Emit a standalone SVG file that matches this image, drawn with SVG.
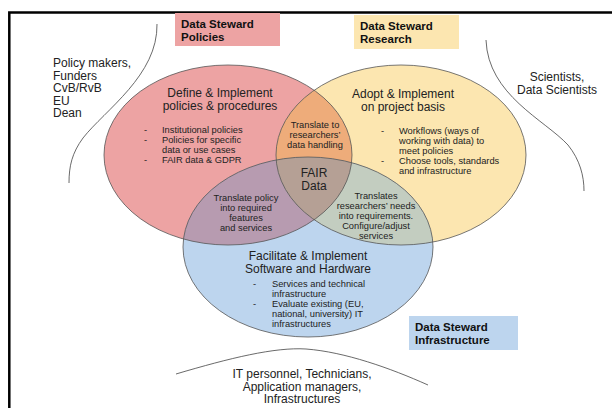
<svg xmlns="http://www.w3.org/2000/svg" width="612" height="408" viewBox="0 0 612 408">
<style>
text{font-family:"Liberation Sans",Arial,sans-serif;fill:#222}
.t{font-size:12px}
.s{font-size:9.3px}
.c{text-anchor:middle}
.b{font-size:11.5px;font-weight:bold;fill:#111}
.edge{fill:none;stroke:#555;stroke-width:0.8}
.curve{fill:none;stroke:#444;stroke-width:0.8}
</style>
<defs>
<clipPath id="cr"><ellipse cx="228" cy="155" rx="124" ry="90"/></clipPath>
<clipPath id="cy"><ellipse cx="401" cy="155" rx="125" ry="90"/></clipPath>
</defs>
<rect width="612" height="408" fill="#fff"/>
<path d="M9.3,408 V12.5 H612" fill="none" stroke="#000" stroke-width="2.5"/>

<g id="labels">
<g id="ds-policies"><rect x="175" y="13" width="105" height="33" fill="#eda3a3"/>
<text class="b" x="181" y="28">Data Steward</text><text class="b" x="181" y="40.5">Policies</text></g>
<g id="ds-research"><rect x="354" y="15" width="105" height="34" fill="#fce6b0"/>
<text class="b" x="360" y="30">Data Steward</text><text class="b" x="360" y="42.5">Research</text></g>
<g id="ds-infra"><rect x="409" y="316" width="109" height="34" fill="#bdd5ee"/>
<text class="b" x="415" y="331">Data Steward</text><text class="b" x="415" y="343.5">Infrastructure</text></g>
</g>

<g id="connectors">
<path class="curve" d="M157,24 C158,75 105,110 83,138 C72,153 69,166 69,183"/>
<path class="curve" d="M486,40 C488,95 545,120 568,145 C580,160 584,176 584,191"/>
<path class="curve" d="M176,374 C230,358 275,347 306,349 C345,352 390,368 428,385"/>
</g>

<g id="venn">
<ellipse id="policies" cx="228" cy="155" rx="124" ry="90" fill="#eda3a3"/>
<ellipse id="research" cx="401" cy="155" rx="125" ry="90" fill="#fce6b0"/>
<ellipse id="infrastructure" cx="308" cy="247" rx="125" ry="90" fill="#bdd5ee"/>
<ellipse cx="401" cy="155" rx="125" ry="90" fill="#eeac7a" clip-path="url(#cr)"/>
<ellipse cx="308" cy="247" rx="125" ry="90" fill="#b79bb0" clip-path="url(#cr)"/>
<ellipse cx="308" cy="247" rx="125" ry="90" fill="#c3cdc0" clip-path="url(#cy)"/>
<g clip-path="url(#cr)"><ellipse cx="308" cy="247" rx="125" ry="90" fill="#b5a095" clip-path="url(#cy)"/></g>
<ellipse class="edge" cx="228" cy="155" rx="124" ry="90"/>
<ellipse class="edge" cx="401" cy="155" rx="125" ry="90"/>
<ellipse class="edge" cx="308" cy="247" rx="125" ry="90"/>
</g>

<g id="outer-groups">
<text class="t" x="53" y="67">Policy makers,</text>
<text class="t" x="53" y="79.5">Funders</text>
<text class="t" x="53" y="92">CvB/RvB</text>
<text class="t" x="53" y="104.5">EU</text>
<text class="t" x="53" y="117">Dean</text>
<text class="t c" x="557" y="80.5">Scientists,</text>
<text class="t c" x="557" y="93.5">Data Scientists</text>
<text class="t c" x="302" y="377.5">IT personnel, Technicians,</text>
<text class="t c" x="302" y="390.5">Application managers,</text>
<text class="t c" x="302" y="403">Infrastructures</text>
</g>

<g id="policies-text">
<text class="t c" x="220" y="96.5">Define &amp; Implement</text>
<text class="t c" x="220" y="109.5">policies &amp; procedures</text>
<text class="s" x="144" y="132.5">-</text><text class="s" x="162" y="132.5">Institutional policies</text>
<text class="s" x="144" y="142.5">-</text><text class="s" x="162" y="142.5">Policies for specific</text>
<text class="s" x="162" y="152.5">data or use cases</text>
<text class="s" x="144" y="162.5">-</text><text class="s" x="162" y="162.5">FAIR data &amp; GDPR</text>
</g>

<g id="research-text">
<text class="t c" x="403" y="97.5">Adopt &amp; Implement</text>
<text class="t c" x="403" y="110.5">on project basis</text>
<text class="s" x="381" y="133.5">-</text><text class="s" x="399" y="133.5">Workflows (ways of</text>
<text class="s" x="399" y="143.5">working with data) to</text>
<text class="s" x="399" y="154">meet policies</text>
<text class="s" x="381" y="164">-</text><text class="s" x="399" y="164">Choose tools, standards</text>
<text class="s" x="399" y="174">and infrastructure</text>
</g>

<g id="infrastructure-text">
<text class="t c" x="308" y="259.5">Facilitate &amp; Implement</text>
<text class="t c" x="308" y="272.5">Software and Hardware</text>
<text class="s" x="253" y="287">-</text><text class="s" x="272" y="287">Services and technical</text>
<text class="s" x="272" y="297">infrastructure</text>
<text class="s" x="253" y="307">-</text><text class="s" x="272" y="307">Evaluate existing (EU,</text>
<text class="s" x="272" y="317">national, university) IT</text>
<text class="s" x="272" y="327">infrastructures</text>
</g>

<g id="overlap-policies-research">
<text class="s c" x="315" y="127.5">Translate to</text>
<text class="s c" x="315" y="137.5">researchers’</text>
<text class="s c" x="315" y="147.5">data handling</text>
</g>

<g id="fair-data">
<text class="t c" x="314" y="177">FAIR</text>
<text class="t c" x="314" y="190">Data</text>
</g>

<g id="overlap-policies-infrastructure">
<text class="s c" x="246" y="200.5">Translate policy</text>
<text class="s c" x="246" y="210.5">into required</text>
<text class="s c" x="246" y="220.5">features</text>
<text class="s c" x="246" y="230.5">and services</text>
</g>

<g id="overlap-research-infrastructure">
<text class="s c" x="376" y="198.5">Translates</text>
<text class="s c" x="376" y="209">researchers’ needs</text>
<text class="s c" x="376" y="219">into requirements.</text>
<text class="s c" x="376" y="229">Configure/adjust</text>
<text class="s c" x="376" y="239">services</text>
</g>
</svg>
